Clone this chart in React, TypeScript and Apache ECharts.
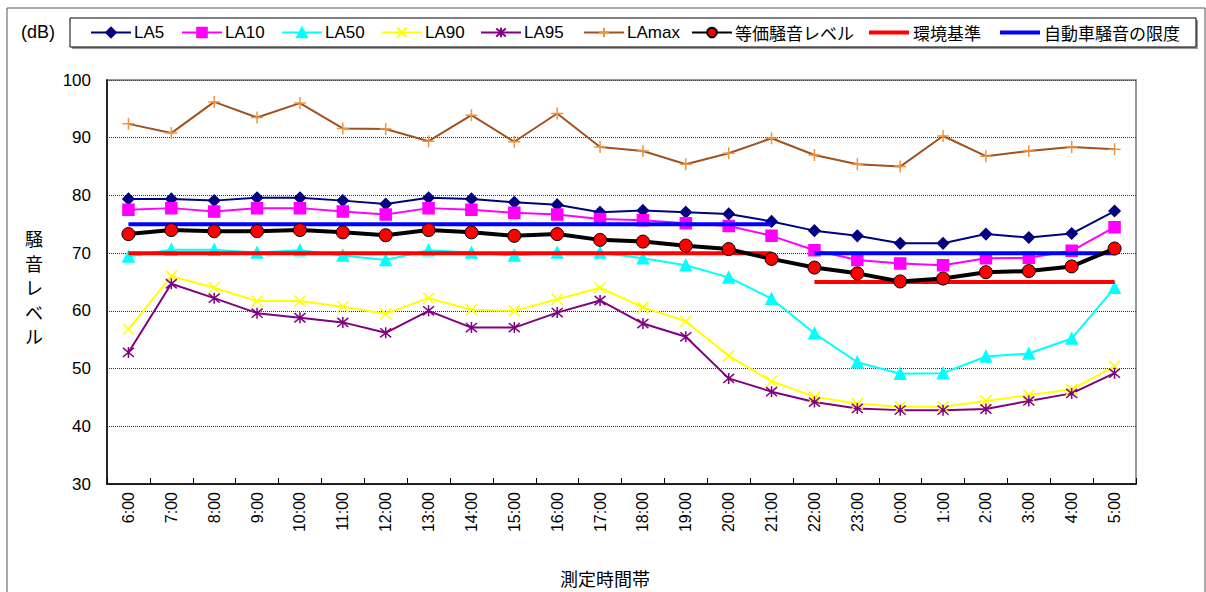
import React, { useEffect, useRef } from "react";
import * as echarts from "echarts";

const categories = ["6:00","7:00","8:00","9:00","10:00","11:00","12:00","13:00","14:00","15:00","16:00","17:00","18:00","19:00","20:00","21:00","22:00","23:00","0:00","1:00","2:00","3:00","4:00","5:00"];
const yTicks = [30, 40, 50, 60, 70, 80, 90, 100];

const la5 = [79.4,79.4,79.1,79.6,79.6,79.1,78.5,79.6,79.4,78.8,78.4,77.1,77.4,77.1,76.8,75.5,73.9,73.0,71.7,71.7,73.3,72.7,73.4,77.3];
const la10 = [77.5,77.8,77.2,77.8,77.8,77.2,76.7,77.8,77.5,77.0,76.7,75.9,75.7,75.2,74.7,73.0,70.5,68.8,68.2,67.9,69.1,69.2,70.4,74.5];
const la50 = [69.4,70.6,70.6,70.1,70.5,69.6,68.8,70.5,70.1,69.6,70.1,70.1,69.1,67.9,65.8,62.1,56.1,51.1,49.1,49.2,52.1,52.6,55.2,64.0];
const la90 = [56.8,66.0,64.0,61.7,61.7,60.7,59.5,62.2,60.2,60.0,62.0,64.0,60.6,58.2,52.2,47.8,45.1,43.9,43.4,43.4,44.4,45.4,46.4,50.4];
const la95 = [52.8,64.7,62.2,59.6,58.8,58.0,56.2,60.0,57.1,57.1,59.7,61.8,57.8,55.5,48.3,46.0,44.2,43.1,42.8,42.8,43.0,44.4,45.7,49.2];
const laMax = [92.4,90.8,96.2,93.5,96.0,91.6,91.5,89.4,93.9,89.3,94.2,88.4,87.7,85.4,87.3,89.9,87.0,85.4,85.0,90.3,86.8,87.7,88.4,88.0];
const leq = [73.3,74.0,73.8,73.8,74.0,73.6,73.1,74.0,73.6,73.0,73.3,72.3,72.0,71.3,70.7,69.0,67.5,66.5,65.1,65.6,66.7,66.9,67.7,70.8];
const envStdDay = [70,70,70,70,70,70,70,70,70,70,70,70,70,70,70,70,null,null,null,null,null,null,null,null];
const envStdNight = [null,null,null,null,null,null,null,null,null,null,null,null,null,null,null,null,65,65,65,65,65,65,65,65];
const carLimitDay = [75,75,75,75,75,75,75,75,75,75,75,75,75,75,75,75,null,null,null,null,null,null,null,null];
const carLimitNight = [null,null,null,null,null,null,null,null,null,null,null,null,null,null,null,null,70,70,70,70,70,70,70,70];

const legendNames = ["LA5","LA10","LA50","LA90","LA95","LAmax","等価騒音レベル","環境基準","自動車騒音の限度"];
const legendLefts = [90, 181, 281, 381, 480, 583, 691, 869, 1000];

const FONT = '"Liberation Sans", Arial, "Noto Sans CJK JP", sans-serif';
const JFONT = '"Noto Sans CJK JP", "Liberation Sans", sans-serif';

const X_PATH = "path://M0,0L10,10M10,0L0,10";
const STAR_PATH = "path://M0,0L10,10M10,0L0,10M5,-1L5,11";
const PLUS_PATH = "path://M5,0L5,10M0,5L10,5";

export default function App() {
  const ref = useRef<HTMLDivElement>(null);
  useEffect(() => {
    if (!ref.current) return;
    const chart = echarts.init(ref.current, null, { renderer: "svg" });
    const mk = (name: string, data: any[], color: string, symbol: string, size: number) => ({
      name,
      type: "line",
      data,
      symbol,
      symbolSize: size,
      z: 2,
      lineStyle: { color, width: 2 },
      itemStyle: { color, borderColor: color, borderWidth: 1.5 },
    });
    const series: any[] = [
      mk("LA5", la5, "#000080", "diamond", 11),
      mk("LA10", la10, "#FF00FF", "rect", 11),
      mk("LA50", la50, "#00FFFF", "triangle", 11),
      mk("LA90", la90, "#FFFF00", X_PATH, 11),
      mk("LA95", la95, "#800080", STAR_PATH, 11),
      {
        name: "LAmax", type: "line", data: laMax, symbol: PLUS_PATH, symbolSize: 12, z: 2,
        lineStyle: { color: "#A0521E", width: 2 },
        itemStyle: { color: "#F0953F", borderColor: "#F0953F", borderWidth: 1.5 },
      },
      { name: "環境基準", type: "line", data: envStdDay, symbol: "none", z: 3, lineStyle: { color: "#FF0000", width: 4 }, itemStyle: { color: "#FF0000" } },
      { name: "環境基準", type: "line", data: envStdNight, symbol: "none", z: 3, lineStyle: { color: "#FF0000", width: 4 }, itemStyle: { color: "#FF0000" } },
      { name: "自動車騒音の限度", type: "line", data: carLimitDay, symbol: "none", z: 3, lineStyle: { color: "#0000FF", width: 4 }, itemStyle: { color: "#0000FF" } },
      { name: "自動車騒音の限度", type: "line", data: carLimitNight, symbol: "none", z: 3, lineStyle: { color: "#0000FF", width: 4 }, itemStyle: { color: "#0000FF" } },
      {
        name: "等価騒音レベル", type: "line", data: leq, symbol: "circle", symbolSize: 13, z: 4,
        lineStyle: { color: "#000000", width: 4 },
        itemStyle: { color: "#FF0000", borderColor: "#000000", borderWidth: 1 },
      },
    ];
    const legends = legendNames.map((n, i) => {
      const plain = i >= 7;
      return {
        data: plain ? [{ name: n, icon: "rect" }] : [n],
        left: legendLefts[i],
        top: 24,
        padding: 0,
        itemWidth: 40,
        itemHeight: plain ? 4 : 12,
        itemGap: 0,
        textStyle: {
          fontSize: 17, color: "#000", fontFamily: i >= 6 ? JFONT : FONT,
          padding: plain ? [0, 0, 0, -1] : [0, 0, 0, -2],
        },
        selectedMode: false,
      };
    });
    chart.setOption({
      animation: false,
      backgroundColor: "#fff",
      textStyle: { fontFamily: FONT },
      legend: legends,
      grid: {
        left: 107, right: 70, top: 80, bottom: 108,
        show: true, borderColor: "#999", borderWidth: 2,
      },
      xAxis: {
        type: "category",
        data: categories,
        boundaryGap: true,
        axisLine: { lineStyle: { color: "#000", width: 1.5 } },
        axisTick: { show: true, inside: true, length: 6, lineStyle: { color: "#000" } },
        axisLabel: { rotate: 90, fontSize: 16, color: "#000", margin: 8, fontFamily: FONT, interval: 0 },
        splitLine: { show: false },
      },
      yAxis: {
        type: "value",
        min: yTicks[0],
        max: yTicks[yTicks.length - 1],
        interval: 10,
        axisLine: { show: true, lineStyle: { color: "#000", width: 1.5 } },
        axisTick: { show: false },
        axisLabel: { fontSize: 17, color: "#000", margin: 16, fontFamily: FONT },
        splitLine: { show: true, lineStyle: { color: "#333", width: 1, type: [1, 1] } },
      },
      graphic: [
        { type: "rect", z: -10, silent: true, shape: { x: 7, y: 8, width: 1198, height: 600 }, style: { fill: "none", stroke: "#555", lineWidth: 1 } },
        { type: "rect", z: -5, silent: true, shape: { x: 72, y: 20, width: 1126, height: 29 }, style: { fill: "#999", stroke: "none" } },
        { type: "rect", z: -4, silent: true, shape: { x: 70, y: 18, width: 1126, height: 29 }, style: { fill: "#fff", stroke: "#000", lineWidth: 1 } },
        { type: "text", silent: true, x: 21, y: 32, style: { text: "(dB)", fontSize: 18, fill: "#000", fontFamily: FONT, verticalAlign: "middle" } },
        { type: "text", silent: true, x: 34, y: 287, style: { text: "騒\n音\nレ\nベ\nル", fontSize: 18, lineHeight: 24.5, fill: "#000", fontFamily: JFONT, align: "center", verticalAlign: "middle" } },
        { type: "text", silent: true, x: 605, y: 578, style: { text: "測定時間帯", fontSize: 18, fill: "#000", fontFamily: JFONT, align: "center", verticalAlign: "middle" } },
      ],
      series,
    });
    return () => chart.dispose();
  }, []);
  return <div ref={ref} style={{ width: 1206, height: 592, position: "absolute", left: 0, top: 0 }} />;
}
